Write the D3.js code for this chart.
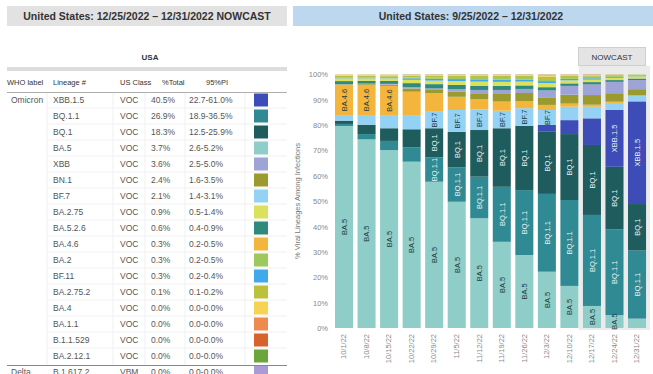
<!DOCTYPE html>
<html><head><meta charset="utf-8">
<script src="https://cdn.jsdelivr.net/npm/d3@7/dist/d3.min.js"></script>
<style>
html,body{margin:0;padding:0;background:#fff;}
svg{display:block;font-family:"Liberation Sans",Arial,sans-serif;}
</style></head>
<body>
<svg id="c" width="653" height="374"></svg>
<script>
// ---------- Table data (left) ----------
const tableWho = ["Omicron","","","","","","","","","","","","","","","","","Delta"];
const tableLineage = ["XBB.1.5","BQ.1.1","BQ.1","BA.5","XBB","BN.1","BF.7","BA.2.75","BA.5.2.6","BA.4.6","BA.2","BF.11","BA.2.75.2","BA.4","BA.1.1","B.1.1.529","BA.2.12.1","B.1.617.2"];
const tableClass = ["VOC","VOC","VOC","VOC","VOC","VOC","VOC","VOC","VOC","VOC","VOC","VOC","VOC","VOC","VOC","VOC","VOC","VBM"];
const tableTotal = ["40.5%","26.9%","18.3%","3.7%","3.6%","2.4%","2.1%","0.9%","0.6%","0.3%","0.3%","0.3%","0.1%","0.0%","0.0%","0.0%","0.0%","0.0%"];
const tablePI = ["22.7-61.0%","18.9-36.5%","12.5-25.9%","2.6-5.2%","2.5-5.0%","1.6-3.5%","1.4-3.1%","0.5-1.4%","0.4-0.9%","0.2-0.5%","0.2-0.5%","0.2-0.4%","0.1-0.2%","0.0-0.0%","0.0-0.0%","0.0-0.0%","0.0-0.0%","0.0-0.0%"];
const lineageColors = ["#3d4cb6","#2f8a93","#1f5c5e","#8fcdc8","#9ea4d6","#9b9a2f","#93d2f4","#dbe15c","#2f8a7c","#f3b53c","#9cc85c","#42a8ec","#bcc13c","#f6d352","#ee8a50","#d8622c","#6ba63d","#aa9bd6"];

// ---------- Chart data (right) ----------
const weeks = ["10/1/22","10/8/22","10/15/22","10/22/22","10/29/22","11/5/22","11/12/22","11/19/22","11/26/22","12/3/22","12/10/22","12/17/22","12/24/22","12/31/22"];
const BA5    = [79.7,74.4,70.2,65.6,57.7,49.8,43.3,34.0,28.8,22.2,16.6,8.7,5.1,3.7];
const BQ11   = [0.8,2.1,3.6,5.7,9.6,13.6,16.4,21.7,25.6,30.7,33.9,35.9,33.8,26.9];
const BQ1    = [1.3,3.7,5.0,7.1,11.5,14.0,18.4,23.1,25.3,24.5,26.0,27.6,24.7,18.3];
const XBB15  = [0,0,0,0,0,0,0,0,0.1,2.7,5.5,10.5,22.4,40.5];
const BF7    = [2.2,3.8,5.2,5.6,6.5,8.6,8.2,6.9,6.9,5.9,5.3,4.6,2.8,2.1];
const BA46   = [11.9,11.9,11.5,9.2,7.3,5.2,3.9,3.6,2.7,2.0,1.2,0.8,0.5,0.3];
const BN1    = [0.2,0.3,0.5,1.3,1.3,2.0,2.4,3.3,3.3,3.0,3.5,3.8,3.3,2.4];
const XBB    = [0.1,0.2,0.3,0.5,0.6,1.0,1.3,1.3,1.6,2.7,3.5,4.2,4.5,3.6];
const BA526  = [1.2,1.1,1.2,1.6,1.7,1.7,1.7,1.6,1.4,1.3,1.0,0.9,0.7,0.6];
const BA275  = [1.1,1.0,1.0,1.3,1.4,1.5,1.6,1.6,1.5,1.6,1.2,1.0,0.9,0.9];
const BF11   = [0.3,0.3,0.4,0.6,0.7,0.8,0.9,0.9,0.8,0.8,0.6,0.5,0.4,0.3];
const BA2    = [0.2,0.2,0.2,0.3,0.4,0.4,0.5,0.6,0.6,0.8,0.7,0.6,0.4,0.3];
const BA2752 = [0.5,0.5,0.5,0.7,0.8,0.9,0.9,0.9,0.9,1.0,0.6,0.5,0.3,0.1];
const BA4    = [0.4,0.4,0.3,0.3,0.3,0.3,0.3,0.3,0.3,0.5,0.2,0.2,0.1,0.0];
const BA2121 = [0.05,0.05,0.05,0.1,0.1,0.1,0.1,0.1,0.1,0.2,0.1,0.1,0.05,0];
const BA11   = [0.03,0.03,0.03,0.05,0.05,0.05,0.05,0.05,0.05,0.05,0.05,0.05,0.03,0];
const B11529 = [0.02,0.02,0.02,0.05,0.05,0.05,0.05,0.05,0.05,0.05,0.05,0.05,0.02,0];
const yTicks = [0,10,20,30,40,50,60,70,80,90,100];

// stacking order bottom -> top
const stackKeys = ["BA.5","BQ.1.1","BQ.1","XBB.1.5","BF.7","BA.4.6","BN.1","XBB","BA.5.2.6","BA.2.75","BF.11","BA.2","BA.2.75.2","BA.4","BA.2.12.1","BA.1.1","B.1.1.529"];
const seriesByKey = {"BA.5":BA5,"BQ.1.1":BQ11,"BQ.1":BQ1,"XBB.1.5":XBB15,"BF.7":BF7,"BA.4.6":BA46,"BN.1":BN1,"XBB":XBB,"BA.5.2.6":BA526,"BA.2.75":BA275,"BF.11":BF11,"BA.2":BA2,"BA.2.75.2":BA2752,"BA.4":BA4,"BA.2.12.1":BA2121,"BA.1.1":BA11,"B.1.1.529":B11529};
// label rules: minimum share to print a label
const labelMin = {"BA.5":5,"BQ.1.1":9,"BQ.1":8,"BF.7":5.8,"BA.4.6":10,"XBB.1.5":15};
const lightText = {"BQ.1.1":1,"BQ.1":1,"XBB.1.5":1};

const colorOf = {};
tableLineage.forEach((l,i)=>colorOf[l]=lineageColors[i]);

const svg = d3.select("#c");

// ---------- Headers ----------
svg.append("rect").attr("x",7).attr("y",6).attr("width",280).attr("height",20).attr("fill","#e2e2e2");
svg.append("text").attr("x",147).attr("y",20).attr("text-anchor","middle")
  .attr("font-size",10.5).attr("font-weight","bold").attr("fill","#333")
  .text("United States: 12/25/2022 – 12/31/2022 NOWCAST");
svg.append("rect").attr("x",293).attr("y",6).attr("width",360).attr("height",20).attr("fill","#bdd7ef");
svg.append("text").attr("x",471).attr("y",20).attr("text-anchor","middle")
  .attr("font-size",10.5).attr("font-weight","bold").attr("fill","#333")
  .text("United States: 9/25/2022 – 12/31/2022");

// ---------- Table ----------
const tg = svg.append("g");
tg.append("text").attr("x",150).attr("y",60).attr("text-anchor","middle").attr("font-size",8)
  .attr("font-weight","bold").attr("fill","#333").text("USA");
tg.append("rect").attr("x",7).attr("y",67).attr("width",280).attr("height",4).attr("fill","#dcdcdc");
const colX = {who:7, lin:53, cls:120, tot:151, pi:189};
const hdrY = 85;
[["WHO label",7],["Lineage #",53],["US Class",120],["%Total",162],["95%PI",206]].forEach(d=>{
  tg.append("text").attr("x",d[1]).attr("y",hdrY).attr("font-size",7.5).attr("fill","#333").text(d[0]);
});
tg.append("line").attr("x1",7).attr("x2",287).attr("y1",92.5).attr("y2",92.5).attr("stroke","#999").attr("stroke-width",0.8);

const rowY = d3.scaleLinear().domain([0,1]).range([100,116]);
// faint grid
[47,113,145,185,245].forEach(x=>{
  tg.append("line").attr("x1",x).attr("x2",x).attr("y1",93).attr("y2",365).attr("stroke","#f0f0f0");
});
tableLineage.forEach((l,i)=>{
  const y = rowY(i);
  if(i>0 && i<17) tg.append("line").attr("x1",47).attr("x2",287).attr("y1",y-8).attr("y2",y-8).attr("stroke","#f0f0f0");
  const fs = 8.5, col = "#555";
  if(tableWho[i]) tg.append("text").attr("x",11).attr("y",y+3).attr("font-size",fs).attr("fill",col).text(tableWho[i]);
  tg.append("text").attr("x",colX.lin).attr("y",y+3).attr("font-size",fs).attr("fill",col).text(l);
  tg.append("text").attr("x",colX.cls).attr("y",y+3).attr("font-size",fs).attr("fill",col).text(tableClass[i]);
  tg.append("text").attr("x",colX.tot).attr("y",y+3).attr("font-size",fs).attr("fill",col).text(tableTotal[i]);
  tg.append("text").attr("x",colX.pi).attr("y",y+3).attr("font-size",fs).attr("fill",col).text(tablePI[i]);
  tg.append("rect").attr("x",254).attr("y",y-6.5).attr("width",14).attr("height",13).attr("fill",lineageColors[i]);
});
tg.append("line").attr("x1",7).attr("x2",287).attr("y1",365.5).attr("y2",365.5).attr("stroke","#888").attr("stroke-width",1);

// ---------- Chart ----------
const x = d3.scaleBand().domain(weeks).range([332.75,648.3]).paddingInner(0.2).paddingOuter(0.1);
const y = d3.scaleLinear().domain([0,100]).range([328,74.5]);

// nowcast background
const nowStart = x("12/17/22") - 4, nowEnd = x("12/31/22") + x.bandwidth() + 4;
svg.append("rect").attr("x",nowStart).attr("y",66).attr("width",nowEnd-nowStart).attr("height",264).attr("fill","#ebebeb");
svg.append("rect").attr("x",578.5).attr("y",47.5).attr("width",67).attr("height",18).attr("fill","#e4e4e4").attr("stroke","#cfcfcf");
svg.append("text").attr("x",612).attr("y",60).attr("text-anchor","middle").attr("font-size",8).attr("fill","#333").text("NOWCAST");

const table = weeks.map((w,i)=>{ const o={week:w}; stackKeys.forEach(k=>o[k]=seriesByKey[k][i]); return o; });
const stacked = d3.stack().keys(stackKeys)(table);

const layers = svg.append("g").selectAll("g").data(stacked).join("g").attr("fill",d=>colorOf[d.key]);
layers.selectAll("rect").data(d=>d.map(p=>({p,key:d.key}))).join("rect")
  .attr("x",d=>x(d.p.data.week)).attr("width",x.bandwidth())
  .attr("y",d=>y(d.p[1])).attr("height",d=>Math.max(0,y(d.p[0])-y(d.p[1])));

// labels
const lab = svg.append("g");
stacked.forEach(s=>{
  if(!(s.key in labelMin)) return;
  s.forEach(p=>{
    if(p[1]-p[0] < labelMin[s.key]) return;
    const cx = x(p.data.week)+x.bandwidth()/2, cy = (y(p[0])+y(p[1]))/2;
    lab.append("text").attr("transform",`translate(${cx+2.8},${cy}) rotate(-90)`)
      .attr("text-anchor","middle").attr("font-size",7.5)
      .attr("fill", lightText[s.key] ? "#e8f2f2" : "#1e3a3a").text(s.key);
  });
});

// y axis
const ya = svg.append("g").attr("transform","translate(331,0)")
  .call(d3.axisLeft(y).tickValues(yTicks).tickFormat(d=>d+"%").tickSize(0).tickPadding(3));
ya.select(".domain").remove();
ya.selectAll("text").attr("font-size",7.5).attr("fill","#888").attr("font-family","Liberation Sans, Arial, sans-serif");

svg.append("text").attr("transform","translate(300,201) rotate(-90)").attr("text-anchor","middle")
  .attr("font-size",7.5).attr("fill","#777").text("% Viral Lineages Among Infections");

// x axis
const xa = svg.append("g").attr("transform","translate(0,331)")
  .call(d3.axisBottom(x).tickSize(0).tickPadding(0));
xa.select(".domain").remove();
xa.selectAll("text").attr("font-size",7.5).attr("fill","#888").attr("font-family","Liberation Sans, Arial, sans-serif")
  .attr("text-anchor","end").attr("transform","rotate(-90)").attr("dx","-0.4em").attr("dy","0.3em");
</script>
</body></html>
